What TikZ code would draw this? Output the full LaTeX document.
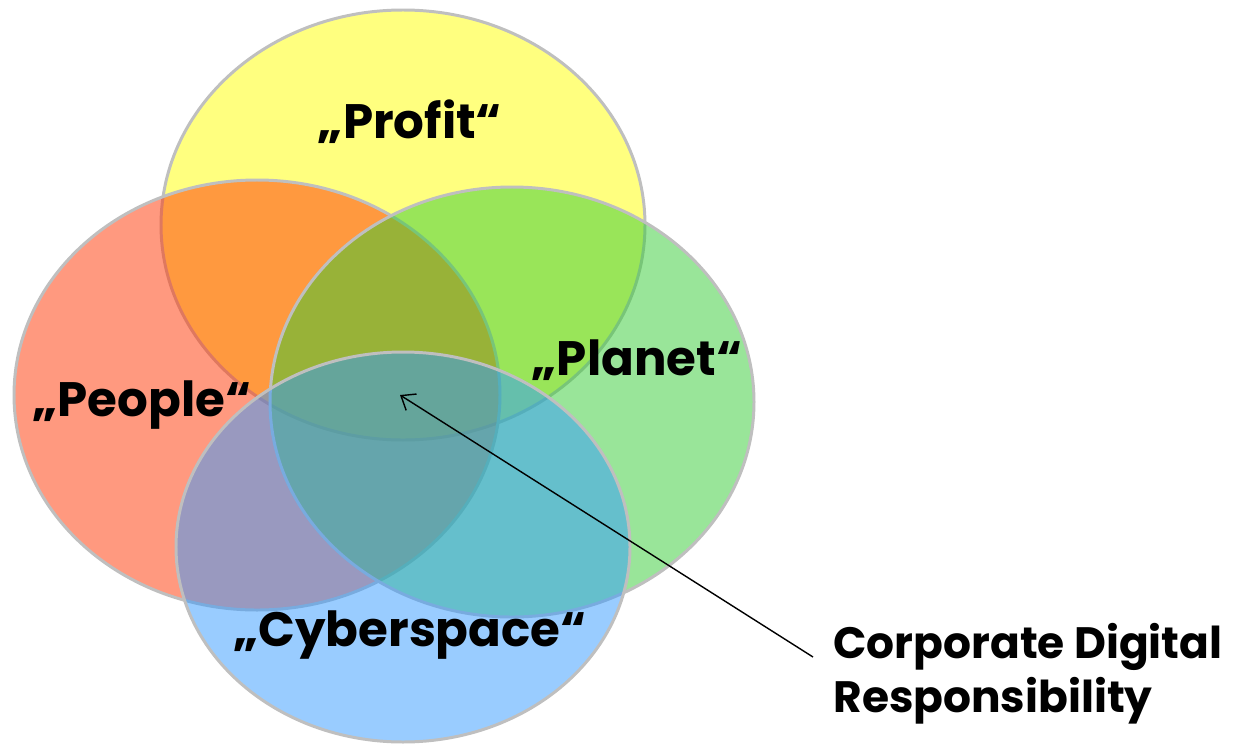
\documentclass[tikz,border=0pt]{standalone}
\usepackage{fontspec}
\setmainfont{Poppins}
\usetikzlibrary{arrows.meta}
\definecolor{profitcol}{HTML}{FFFF00}
\definecolor{peoplecol}{HTML}{FF3300}
\definecolor{planetcol}{HTML}{33CC33}
\definecolor{cybercol}{HTML}{3399FF}
\definecolor{rimcol}{HTML}{BFBFBF}
\tikzset{
  venn/.style={draw=rimcol, line width=1.7pt, fill=#1, fill opacity=0.5},
  lbl/.style={font=\fontsize{27.5}{33}\selectfont\bfseries, inner sep=0pt}
}

\begin{document}
\begin{tikzpicture}[x=0.02cm, y=-0.02cm]
      \useasboundingbox (0,0) rectangle (1247,744);
      \path[venn=profitcol] (403,225) ellipse [x radius=242, y radius=215];
      \path[venn=peoplecol] (257,395) ellipse [x radius=243, y radius=215];
      \path[venn=planetcol] (512,402) ellipse [x radius=242, y radius=215];
      \path[venn=cybercol] (403,547) ellipse [x radius=227, y radius=195];
      \node[lbl] (profit) at (410,122) {„Profit“};
      \node[lbl] (people) at (142,405) {„People“};
      \node[lbl] (planet) at (637,360) {„Planet“};
      \node[lbl] (cyber) at (410,635) {„Cyberspace“};
      \node[lbl, anchor=west, align=left, font=\fontsize{25}{31}\selectfont\bfseries] (cdr) at (833,674) {Corporate Digital\\Responsibility};
      \coordinate (core) at (400,395);
      \path[-{Straight Barb[length=7pt,width=11pt]}, line width=0.8pt] ([xshift=-0.4cm,yshift=0.34cm]cdr.west) edge (core);
    \end{tikzpicture}
\end{document}
